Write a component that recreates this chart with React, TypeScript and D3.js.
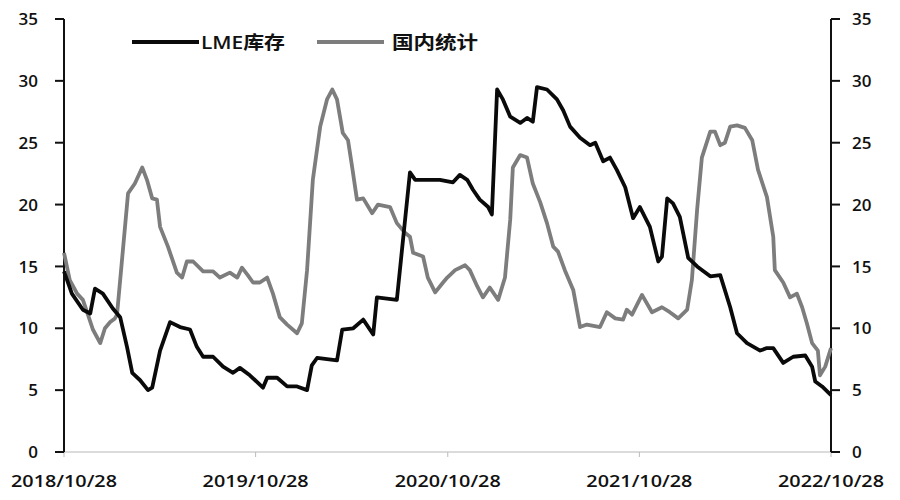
import React from "react";
import * as d3 from "d3";

const W = 900;
const H = 500;
const M = { left: 64, right: 69, top: 19, bottom: 48 };

// LME库存 (万吨)
const lmeDates = [
  "2018-10-28", "2018-11-12", "2018-12-03", "2018-12-17", "2018-12-26", "2019-01-10", "2019-01-29", "2019-02-12",
  "2019-02-25", "2019-03-07", "2019-03-22", "2019-04-06", "2019-04-14", "2019-04-29", "2019-05-18", "2019-06-06",
  "2019-06-25", "2019-07-08", "2019-07-20", "2019-08-08", "2019-08-27", "2019-09-15", "2019-09-28", "2019-10-17",
  "2019-11-11", "2019-11-19", "2019-12-08", "2019-12-27", "2020-01-15", "2020-02-03", "2020-02-12", "2020-02-22",
  "2020-03-31", "2020-04-10", "2020-05-01", "2020-05-20", "2020-06-08", "2020-06-15", "2020-07-23", "2020-08-17",
  "2020-08-27", "2020-10-13", "2020-11-07", "2020-11-20", "2020-12-04", "2020-12-15", "2020-12-28", "2021-01-13",
  "2021-01-20", "2021-01-30", "2021-02-10", "2021-02-24", "2021-03-15", "2021-03-28", "2021-04-08", "2021-04-16",
  "2021-05-05", "2021-05-24", "2021-06-05", "2021-06-18", "2021-07-07", "2021-07-26", "2021-08-05", "2021-08-20",
  "2021-09-02", "2021-09-15", "2021-10-01", "2021-10-16", "2021-10-29", "2021-11-17", "2021-12-03", "2021-12-10",
  "2021-12-20", "2021-12-31", "2022-01-13", "2022-01-29", "2022-02-15", "2022-03-12", "2022-03-31", "2022-04-19",
  "2022-05-02", "2022-05-21", "2022-06-15", "2022-06-28", "2022-07-10", "2022-07-29", "2022-08-17", "2022-09-09",
  "2022-09-22", "2022-09-28", "2022-10-11", "2022-10-28",
];
const lmeValues = [
  14.6, 12.8, 11.5, 11.2, 13.2, 12.8, 11.6, 10.9,
  8.5, 6.4, 5.8, 5.0, 5.2, 8.2, 10.5, 10.1,
  9.9, 8.5, 7.7, 7.7, 6.9, 6.4, 6.8, 6.2,
  5.2, 6.0, 6.0, 5.3, 5.3, 5.0, 7.0, 7.6,
  7.4, 9.9, 10.0, 10.7, 9.5, 12.5, 12.3, 22.6,
  22.0, 22.0, 21.8, 22.4, 22.0, 21.2, 20.4, 19.8,
  19.2, 29.3, 28.5, 27.1, 26.6, 27.0, 26.7, 29.5,
  29.3, 28.5, 27.6, 26.3, 25.4, 24.8, 25.0, 23.5,
  23.8, 22.8, 21.4, 18.9, 19.8, 18.2, 15.4, 15.8,
  20.5, 20.1, 19.0, 15.7, 15.0, 14.2, 14.3, 11.7,
  9.6, 8.8, 8.2, 8.4, 8.4, 7.2, 7.7, 7.8,
  6.9, 5.7, 5.3, 4.6,
];

// 国内统计 (万吨)
const cnDates = [
  "2018-10-28", "2018-11-08", "2018-11-22", "2018-12-03", "2018-12-11", "2018-12-22", "2019-01-05", "2019-01-14",
  "2019-01-24", "2019-02-02", "2019-02-06", "2019-02-15", "2019-02-27", "2019-03-12", "2019-03-26", "2019-04-04",
  "2019-04-14", "2019-04-23", "2019-04-29", "2019-05-14", "2019-05-31", "2019-06-10", "2019-06-19", "2019-07-01",
  "2019-07-20", "2019-08-08", "2019-08-21", "2019-09-09", "2019-09-23", "2019-10-02", "2019-10-13", "2019-10-23",
  "2019-11-05", "2019-11-19", "2019-11-30", "2019-12-13", "2019-12-27", "2020-01-15", "2020-01-24", "2020-02-03",
  "2020-02-14", "2020-02-28", "2020-03-12", "2020-03-22", "2020-03-31", "2020-04-11", "2020-04-21", "2020-04-29",
  "2020-05-08", "2020-05-20", "2020-06-06", "2020-06-17", "2020-07-10", "2020-07-23", "2020-08-08", "2020-08-17",
  "2020-08-23", "2020-09-11", "2020-09-20", "2020-10-04", "2020-10-19", "2020-10-27", "2020-11-11", "2020-11-30",
  "2020-12-09", "2020-12-23", "2021-01-03", "2021-01-16", "2021-02-01", "2021-02-14", "2021-02-24", "2021-03-01",
  "2021-03-15", "2021-03-28", "2021-04-08", "2021-04-22", "2021-05-05", "2021-05-17", "2021-05-26", "2021-06-08",
  "2021-06-24", "2021-07-07", "2021-07-20", "2021-08-14", "2021-08-27", "2021-09-12", "2021-09-27", "2021-10-04",
  "2021-10-14", "2021-11-02", "2021-11-21", "2021-12-10", "2021-12-25", "2022-01-10", "2022-01-27", "2022-02-05",
  "2022-02-15", "2022-02-24", "2022-03-12", "2022-03-21", "2022-03-31", "2022-04-09", "2022-04-19", "2022-05-02",
  "2022-05-17", "2022-05-31", "2022-06-11", "2022-06-28", "2022-07-10", "2022-07-13", "2022-07-29", "2022-08-11",
  "2022-08-24", "2022-09-03", "2022-09-12", "2022-09-22", "2022-10-03", "2022-10-07", "2022-10-17", "2022-10-28",
];
const cnValues = [
  16.1, 13.9, 12.8, 12.3, 11.3, 9.9, 8.8, 10.0,
  10.5, 10.8, 11.1, 15.3, 20.9, 21.7, 23.0, 22.0,
  20.5, 20.4, 18.2, 16.6, 14.5, 14.1, 15.4, 15.4,
  14.6, 14.6, 14.1, 14.5, 14.1, 14.9, 14.3, 13.7,
  13.7, 14.1, 12.8, 10.9, 10.3, 9.6, 10.4, 14.7,
  22.0, 26.3, 28.5, 29.3, 28.5, 25.8, 25.2, 23.0,
  20.4, 20.5, 19.3, 20.0, 19.8, 18.5, 17.7, 17.4,
  16.1, 15.8, 14.1, 12.9, 13.7, 14.1, 14.7, 15.1,
  14.7, 13.4, 12.5, 13.3, 12.3, 14.1, 18.8, 23.0,
  24.0, 23.8, 21.7, 20.2, 18.5, 16.6, 16.2, 14.7,
  13.1, 10.1, 10.3, 10.1, 11.3, 10.8, 10.7, 11.5,
  11.1, 12.7, 11.3, 11.7, 11.3, 10.8, 11.5, 13.9,
  19.6, 23.8, 25.9, 25.9, 24.8, 25.0, 26.3, 26.4,
  26.2, 25.2, 22.8, 20.6, 17.4, 14.7, 13.7, 12.5,
  12.8, 11.7, 10.4, 8.8, 8.2, 6.2, 6.9, 8.4,
];

const xTickLabels = ["2018/10/28", "2019/10/28", "2020/10/28", "2021/10/28", "2022/10/28"];
const yTicks = [0, 5, 10, 15, 20, 25, 30, 35];
const seriesNames = ["LME库存", "国内统计"];
const seriesColors = ["#0a0a0a", "#7d7d7d"];

const parse = d3.timeParse("%Y-%m-%d");
const parseTick = d3.timeParse("%Y/%m/%d");

export default function App() {
  const x = d3
    .scaleTime()
    .domain([parse("2018-10-28")!, parse("2022-10-28")!])
    .range([M.left, W - M.right]);
  const y = d3.scaleLinear().domain([0, 35]).range([H - M.bottom, M.top]);

  const line = d3
    .line<[Date, number]>()
    .x((d) => x(d[0]))
    .y((d) => y(d[1]));

  const lme: [Date, number][] = lmeDates.map((d, i) => [parse(d)!, lmeValues[i]]);
  const cn: [Date, number][] = cnDates.map((d, i) => [parse(d)!, cnValues[i]]);

  const font = "'Open Sans', 'Noto Sans CJK SC', sans-serif";
  const x0 = M.left;
  const x1 = W - M.right;
  const yBase = y(0);

  return (
    <svg
      width={W}
      height={H}
      style={{ position: "absolute", left: 0, top: 0, background: "#fff" }}
      fontFamily={font}
    >
      {/* bottom axis */}
      <line x1={x0} x2={x1} y1={yBase} y2={yBase} stroke="#cfcfcf" strokeWidth={1.5} />
      {xTickLabels.map((t) => {
        const tx = x(parseTick(t)!);
        return (
          <g key={t}>
            <line x1={tx} x2={tx} y1={yBase} y2={yBase + 5} stroke="#bbb" strokeWidth={1} />
            <text
              x={tx - 53}
              y={487}
              fontSize={17}
              fill="#111"
              fontWeight={600}
              textLength={106}
              lengthAdjust="spacingAndGlyphs"
            >
              {t}
            </text>
          </g>
        );
      })}

      {/* left axis */}
      <line x1={x0} x2={x0} y1={y(35)} y2={yBase} stroke="#111" strokeWidth={2} />
      {yTicks.map((t) => (
        <g key={"l" + t}>
          <line x1={x0 - 9} x2={x0} y1={y(t)} y2={y(t)} stroke="#111" strokeWidth={2} />
          <text x={38} y={y(t)} dy="0.36em" textAnchor="end" fontSize={17} fill="#111" fontWeight={600}>
            {t}
          </text>
        </g>
      ))}

      {/* right axis */}
      <line x1={x1} x2={x1} y1={y(35)} y2={yBase} stroke="#111" strokeWidth={2} />
      {yTicks.map((t) => (
        <g key={"r" + t}>
          <line x1={x1} x2={x1 + 9} y1={y(t)} y2={y(t)} stroke="#111" strokeWidth={2} />
          <text x={852} y={y(t)} dy="0.36em" textAnchor="start" fontSize={17} fill="#111" fontWeight={600}>
            {t}
          </text>
        </g>
      ))}

      {/* series */}
      <path d={line(cn)!} fill="none" stroke={seriesColors[1]} strokeWidth={3.8} strokeLinejoin="round" />
      <path d={line(lme)!} fill="none" stroke={seriesColors[0]} strokeWidth={3.8} strokeLinejoin="round" />

      {/* legend */}
      {seriesNames.map((name, i) => {
        const lx = i === 0 ? 132 : 317;
        return (
          <g key={name}>
            <line x1={lx} x2={lx + 67} y1={42} y2={42} stroke={seriesColors[i]} strokeWidth={4} />
            <text
              x={lx + (i === 0 ? 69 : 75)}
              y={43}
              dy="0.36em"
              fontSize={18}
              fill="#111"
              fontWeight={600}
              textLength={i === 0 ? 84 : 86}
              lengthAdjust="spacingAndGlyphs"
            >
              {name}
            </text>
          </g>
        );
      })}
    </svg>
  );
}
